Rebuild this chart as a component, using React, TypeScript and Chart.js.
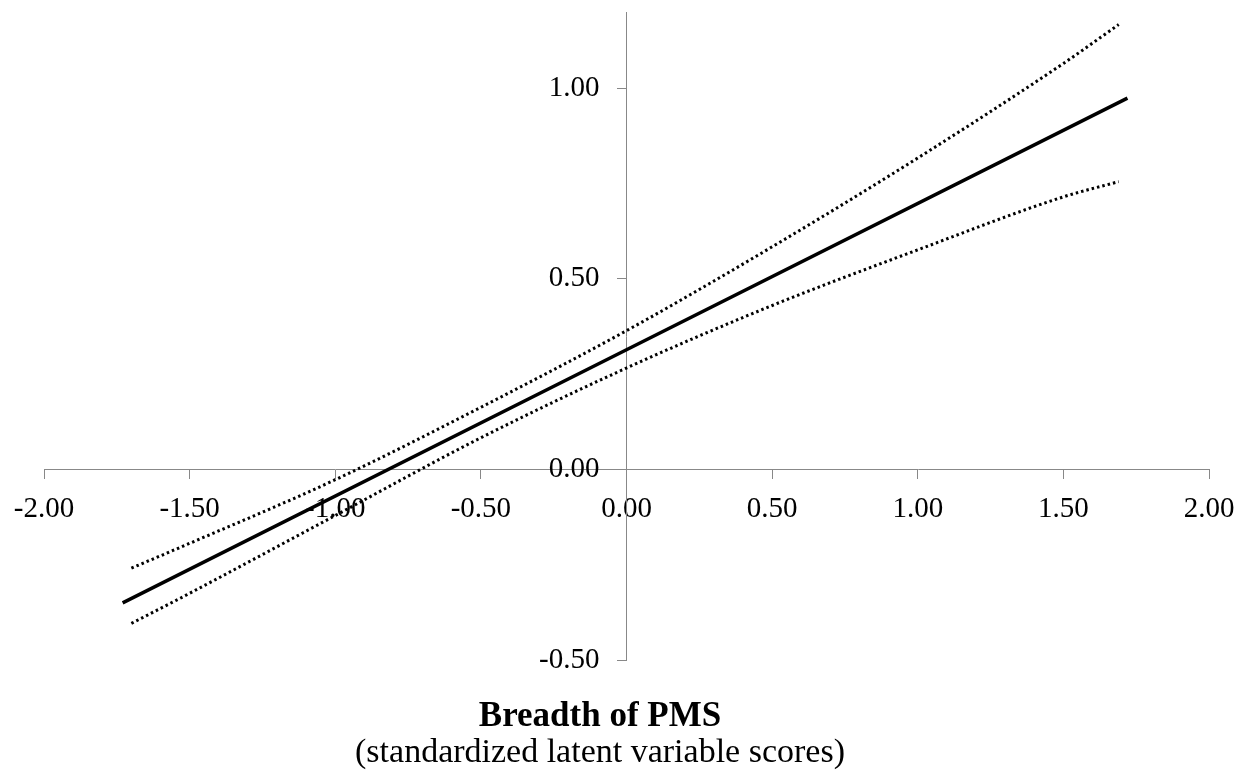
import React, { useEffect, useRef } from "react";
import { Chart, registerables } from "chart.js";

Chart.register(...registerables);

// ---- Data ----
const X_TICKS = [-2.0, -1.5, -1.0, -0.5, 0.0, 0.5, 1.0, 1.5, 2.0];
const Y_TICKS = [-0.5, 0.0, 0.5, 1.0];

// Regression line (solid)
const MAIN_X = [-1.73, 0.0, 1.72];
const MAIN_Y = [-0.35, 0.314, 0.974];

// Confidence band (dotted)
const BAND_X = [-1.7, -1.5, -1.0, -0.5, 0.0, 0.5, 1.0, 1.5, 1.69];
const UPPER_Y = [-0.259, -0.194, -0.027, 0.163, 0.364, 0.584, 0.817, 1.065, 1.167];
const LOWER_Y = [-0.404, -0.325, -0.121, 0.083, 0.266, 0.43, 0.576, 0.715, 0.755];

const TITLE = "Breadth of PMS";
const SUBTITLE = "(standardized latent variable scores)";

const FONT = "'Liberation Serif', 'Times New Roman', serif";
const AXIS_COLOR = "#888888";
const Y_LABEL_GAP = 27;

const toPoints = (xs: number[], ys: number[]) => xs.map((x, i) => ({ x, y: ys[i] }));

const titlePlugin = {
  id: "bottomTitles",
  afterDraw(chart: any) {
    const ctx = chart.ctx;
    ctx.save();
    ctx.fillStyle = "#000";
    ctx.textAlign = "center";
    ctx.textBaseline = "alphabetic";
    ctx.font = `bold 35px ${FONT}`;
    ctx.fillText(TITLE, 600, 726);
    ctx.font = `34px ${FONT}`;
    ctx.fillText(SUBTITLE, 600, 762);
    ctx.restore();
  },
};

// y-axis sits at x = 0; move its labels left of the tick marks
const yLabelOffsetPlugin = {
  id: "yLabelOffset",
  beforeDraw(chart: any) {
    const s = chart.scales.y;
    if (!s) return;
    const items = s.getLabelItems(chart.chartArea);
    if (items && !items.__shifted) {
      items.forEach((it: any) => {
        it.options.translation[0] -= Y_LABEL_GAP;
      });
      items.__shifted = true;
    }
  },
};

export default function App() {
  const canvasRef = useRef<HTMLCanvasElement | null>(null);

  useEffect(() => {
    const canvas = canvasRef.current;
    if (!canvas) return;
    const chart = new Chart(canvas, {
      type: "line",
      data: {
        datasets: [
          {
            data: toPoints(MAIN_X, MAIN_Y),
            borderColor: "#000",
            borderWidth: 3.5,
            pointRadius: 0,
            fill: false,
          },
          {
            data: toPoints(BAND_X, UPPER_Y),
            borderColor: "#000",
            borderWidth: 3,
            borderDash: [2.5, 3],
            pointRadius: 0,
            cubicInterpolationMode: "monotone",
            fill: false,
          },
          {
            data: toPoints(BAND_X, LOWER_Y),
            borderColor: "#000",
            borderWidth: 3,
            borderDash: [2.5, 3],
            pointRadius: 0,
            cubicInterpolationMode: "monotone",
            fill: false,
          },
        ],
      },
      options: {
        animation: false,
        responsive: true,
        maintainAspectRatio: false,
        layout: { padding: { left: 44, right: 37, top: 12, bottom: 113 } },
        plugins: {
          legend: { display: false },
          tooltip: { enabled: false },
          title: { display: false },
        },
        scales: {
          x: {
            type: "linear",
            min: -2,
            max: 2,
            position: { y: 0 },
            afterBuildTicks: (s: any) => {
              s.ticks = X_TICKS.map((v) => ({ value: v }));
            },
            afterFit: (s: any) => {
              s.paddingLeft = 0;
              s.paddingRight = 0;
            },
            ticks: {
              callback: (v: any) => Number(v).toFixed(2),
              font: { family: FONT, size: 29 },
              color: "#000",
              padding: 14,
              maxRotation: 0,
              autoSkip: false,
            },
            grid: {
              drawOnChartArea: false,
              drawTicks: true,
              tickLength: 9,
              color: AXIS_COLOR,
              lineWidth: 1,
            },
            border: { display: true, color: AXIS_COLOR, width: 1 },
          },
          y: {
            type: "linear",
            min: -0.5,
            max: 1.2,
            position: { x: 0 },
            afterBuildTicks: (s: any) => {
              s.ticks = Y_TICKS.map((v) => ({ value: v }));
            },
            afterFit: (s: any) => {
              s.paddingTop = 0;
              s.paddingBottom = 0;
            },
            ticks: {
              callback: (v: any) => Number(v).toFixed(2),
              font: { family: FONT, size: 29 },
              color: "#000",
              padding: 17,
              autoSkip: false,
            },
            grid: {
              drawOnChartArea: false,
              drawTicks: true,
              tickLength: 9,
              color: AXIS_COLOR,
              lineWidth: 1,
            },
            border: { display: true, color: AXIS_COLOR, width: 1 },
          },
        },
      },
      plugins: [yLabelOffsetPlugin, titlePlugin],
    } as any);
    return () => chart.destroy();
  }, []);

  return (
    <div style={{ position: "fixed", left: 0, top: 0, width: 1246, height: 773, background: "#fff" }}>
      <canvas ref={canvasRef} />
    </div>
  );
}
